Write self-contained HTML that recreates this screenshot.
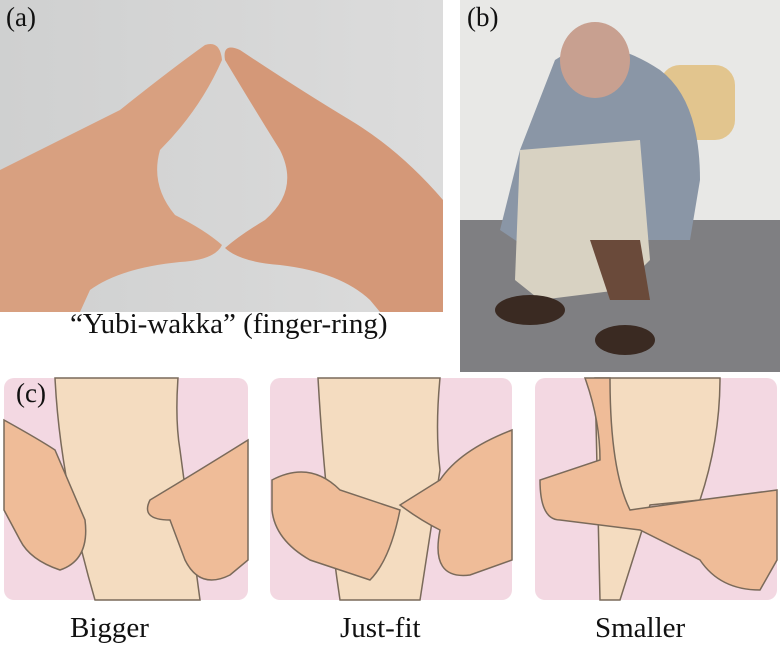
<!DOCTYPE html>
<html><head><style>
body{margin:0;width:780px;height:651px;background:#fff;overflow:hidden;position:relative;font-family:"Liberation Serif",serif}
.t{position:absolute;font-size:29px;color:#111;white-space:nowrap}
</style></head><body>
<svg width="780" height="651" style="position:absolute;left:0;top:0">
<defs>
<linearGradient id="bg" x1="0" y1="0" x2="1" y2="0"><stop offset="0" stop-color="#cfd0d0"/><stop offset="1" stop-color="#dcdcdc"/></linearGradient>
</defs>
<rect x="0" y="0" width="443" height="312" fill="url(#bg)"/>
<path d="M0 170 Q60 140 120 110 Q170 70 205 45 Q220 40 222 60 Q200 110 160 150 Q150 185 175 215 Q205 230 222 245 Q215 260 180 262 Q120 268 90 290 L80 312 L0 312Z" fill="#d8a080"/>
<path d="M443 200 Q400 150 350 120 Q300 90 240 50 Q222 42 225 60 Q255 110 280 150 Q300 190 265 220 Q240 235 225 248 Q240 262 280 265 Q340 272 370 300 L380 312 L443 312Z" fill="#d49878"/>
<rect x="460" y="0" width="320" height="372" fill="#e8e8e6"/>
<rect x="460" y="220" width="320" height="152" fill="#7f7f82"/>
<rect x="660" y="65" width="75" height="75" rx="20" fill="#e2c58e"/>
<path d="M555 60 Q600 30 660 70 Q700 100 700 180 L690 240 L640 240 L600 150 L560 200 L530 250 L500 230 L520 150Z" fill="#8a96a6"/>
<ellipse cx="595" cy="60" rx="35" ry="38" fill="#c8a090"/>
<path d="M520 150 L640 140 L650 260 L620 290 L540 300 L515 280Z" fill="#d8d2c2"/>
<path d="M590 240 L640 240 L650 300 L610 300Z" fill="#6a4a3a"/>
<ellipse cx="530" cy="310" rx="35" ry="15" fill="#3a2a22"/>
<ellipse cx="625" cy="340" rx="30" ry="15" fill="#3a2a22"/>
<g>
<rect x="4" y="378" width="244" height="222" rx="10" fill="#f3d8e2"/>
<path d="M55 378 L178 378 Q175 420 180 450 L200 600 L95 600 Q60 480 55 378Z" fill="#f4dcc0" stroke="#7a6a5a" stroke-width="1.5"/>
<path d="M4 420 Q40 440 55 450 L85 520 Q90 560 60 570 Q30 560 20 540 L4 510Z" fill="#efbc98" stroke="#7a6a5a" stroke-width="1.5"/>
<path d="M248 440 Q200 470 150 500 Q140 520 170 520 L185 560 Q200 590 230 575 L248 560Z" fill="#efbc98" stroke="#7a6a5a" stroke-width="1.5"/>
</g>
<g>
<rect x="270" y="378" width="242" height="222" rx="10" fill="#f3d8e2"/>
<path d="M318 378 L440 378 Q435 430 440 470 L420 600 L340 600 Q325 500 318 378Z" fill="#f4dcc0" stroke="#7a6a5a" stroke-width="1.5"/>
<path d="M272 480 Q310 460 340 490 L400 510 Q390 560 370 580 L310 560 Q275 540 272 510Z" fill="#efbc98" stroke="#7a6a5a" stroke-width="1.5"/>
<path d="M512 430 Q460 450 440 480 L400 505 Q420 520 440 530 Q430 580 470 575 L512 560Z" fill="#efbc98" stroke="#7a6a5a" stroke-width="1.5"/>
</g>
<g>
<rect x="535" y="378" width="242" height="222" rx="10" fill="#f3d8e2"/>
<path d="M595 378 L720 378 Q720 440 700 500 L650 505 L620 600 L600 600Z" fill="#f4dcc0" stroke="#7a6a5a" stroke-width="1.5"/>
<path d="M585 378 Q600 420 600 460 L540 480 Q540 520 560 520 L640 530 L700 560 Q720 590 760 590 L777 560 L777 490 L700 500 L630 510 Q610 470 610 378Z" fill="#efbc98" stroke="#7a6a5a" stroke-width="1.5"/>
</g>
</svg>
<div class="t" style="left:6px;top:2px;font-size:27px">(a)</div>
<div class="t" style="left:467px;top:2px;font-size:27px">(b)</div>
<div class="t" style="left:16px;top:378px;font-size:27px">(c)</div>
<div class="t" style="left:70px;top:308px">“Yubi-wakka” (finger-ring)</div>
<div class="t" style="left:70px;top:612px">Bigger</div>
<div class="t" style="left:340px;top:612px">Just-fit</div>
<div class="t" style="left:595px;top:612px">Smaller</div>
</body></html>
